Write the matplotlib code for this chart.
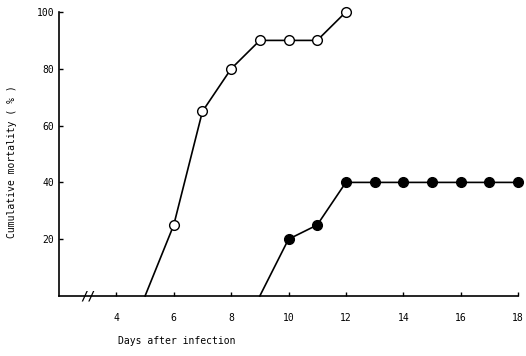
import matplotlib.pyplot as plt

# data
days_open = [5, 6, 7, 8, 9, 10, 11, 12]
mort_open = [0, 25, 65, 80, 90, 90, 90, 100]
days_filled = [9, 10, 11, 12, 13, 14, 15, 16, 17, 18]
mort_filled = [0, 20, 25, 40, 40, 40, 40, 40, 40, 40]
x_ticks = [4, 6, 8, 10, 12, 14, 16, 18]
y_ticks = [20, 40, 60, 80, 100]

plt.rcParams['font.family'] = 'DejaVu Sans Mono'

fig = plt.figure(figsize=(5.26, 3.56), dpi=100)
ax = fig.add_axes([59 / 526, 1 - 296 / 356, (518 - 59) / 526, (296 - 12) / 356])

ax.plot(days_open, mort_open, color="black", lw=1.2, marker="o", ms=7,
        mfc="white", mec="black", mew=1.0, clip_on=False, zorder=3,
        markevery=list(range(1, len(days_open))))
ax.plot(days_filled, mort_filled, color="black", lw=1.2, marker="o", ms=7,
        mfc="black", mec="black", clip_on=False, zorder=3,
        markevery=list(range(1, len(days_filled))))

ax.set_xlim(2, 18)
ax.set_ylim(0, 100)
ax.set_xticks(x_ticks)
ax.set_yticks(y_ticks)
ax.tick_params(direction="in", length=3, labelsize=7, width=1)
ax.tick_params(axis="x", pad=12)
ax.spines["top"].set_visible(False)
ax.spines["right"].set_visible(False)
ax.spines["left"].set_linewidth(1.2)
ax.spines["bottom"].set_linewidth(1.2)

# axis break mark
ax.text(3.0, 0, "//", fontsize=9, ha="center", va="center",
        fontweight="bold", clip_on=False)

fig.text(177 / 526, 1 - 341 / 356, "Days after infection", fontsize=7,
         ha="center", va="center")
fig.text(12 / 526, 1 - 162 / 356, "Cumulative mortality ( % )", fontsize=7,
         ha="center", va="center", rotation=90)

fig.savefig("out.png", dpi=100)
